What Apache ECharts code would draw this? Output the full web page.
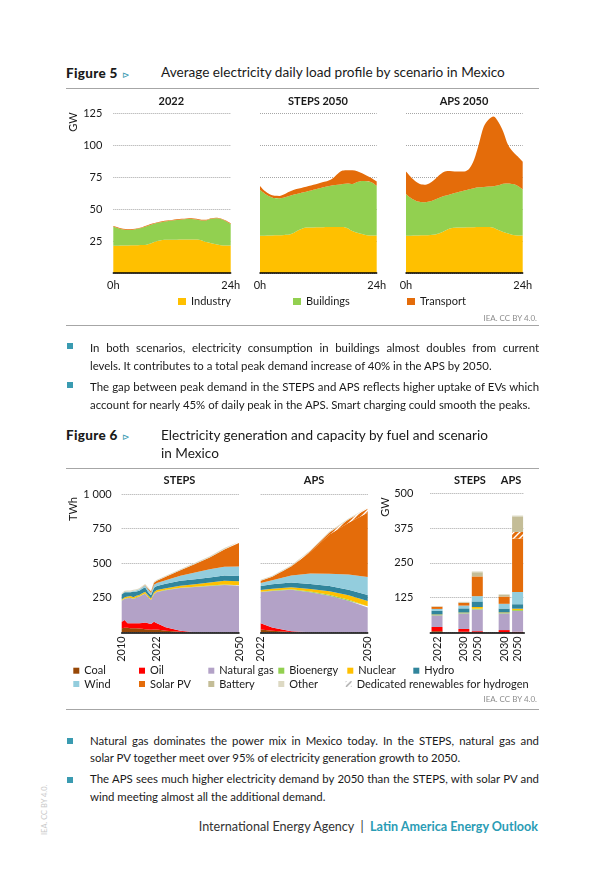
<!DOCTYPE html>
<html>
<head>
<meta charset="utf-8">
<script src="https://cdn.jsdelivr.net/npm/echarts@6.0.0/dist/echarts.min.js"></script>
<style>
  body { margin: 0; background: #fff; }
  #page { position: relative; width: 605px; height: 869px; overflow: hidden; font-family: Lato, 'Noto Sans', sans-serif; color: #1a1a1a; }
  .abs { position: absolute; white-space: nowrap; }
  .chart { position: absolute; }
  .figno { font-weight: 900; font-size: 13.5px; line-height: 18px; letter-spacing: 0.3px; }
  .tri { color: #3a9bb1; font-size: 9px; font-weight: normal; margin-left: 4px; }
  .figtitle { font-size: 13.6px; line-height: 17.5px; }
  .rule { position: absolute; left: 66px; width: 473px; height: 0; border-top: 1.5px solid #a6a6a6; }
  .src { position: absolute; right: 68px; font-size: 8px; line-height: 12px; color: #8c8c8c; }
  .line { position: absolute; left: 90px; width: 449px; font-size: 11.4px; line-height: 18px; white-space: nowrap; }
  .just { text-align: justify; text-align-last: justify; white-space: normal; }
  .sq { position: absolute; left: 67px; width: 6px; height: 6px; background: #3a9bb1; }
</style>
</head>
<body>
<div id="page">
  <div id="fig5" class="chart" style="left:60px; top:90px; width:490px; height:232px;"></div>
  <div id="fig6" class="chart" style="left:60px; top:470px; width:490px; height:230px;"></div>

  <div class="abs figno" style="left:66px; top:64px;">Figure 5<span class="tri">⊳</span></div>
  <div class="abs figtitle" style="left:161px; top:64px;">Average electricity daily load profile by scenario in Mexico</div>
  <div class="rule" style="top:88px;"></div>
  <div class="src" style="top:312px;">IEA. CC BY 4.0.</div>
  <div class="rule" style="top:325px;"></div>

  <div class="sq" style="top:343px;"></div>
  <div class="line just" style="top:339px;">In both scenarios, electricity consumption in buildings almost doubles from current</div>
  <div class="line" style="top:357px;">levels. It contributes to a total peak demand increase of 40% in the APS by 2050.</div>
  <div class="sq" style="top:382px;"></div>
  <div class="line just" style="top:378px;">The gap between peak demand in the STEPS and APS reflects higher uptake of EVs which</div>
  <div class="line" style="top:396px;">account for nearly 45% of daily peak in the APS. Smart charging could smooth the peaks.</div>

  <div class="abs figno" style="left:66px; top:426px;">Figure 6<span class="tri">⊳</span></div>
  <div class="abs figtitle" style="left:161px; top:427px;">Electricity generation and capacity by fuel and scenario<br>in Mexico</div>
  <div class="rule" style="top:468px;"></div>
  <div class="src" style="top:693px;">IEA. CC BY 4.0.</div>
  <div class="rule" style="top:709px;"></div>

  <div class="sq" style="top:738px;"></div>
  <div class="line just" style="top:732px;">Natural gas dominates the power mix in Mexico today. In the STEPS, natural gas and</div>
  <div class="line" style="top:749px;">solar PV together meet over 95% of electricity generation growth to 2050.</div>
  <div class="sq" style="top:777px;"></div>
  <div class="line just" style="top:770px;">The APS sees much higher electricity demand by 2050 than the STEPS, with solar PV and</div>
  <div class="line" style="top:788px;">wind meeting almost all the additional demand.</div>

  <div class="abs" style="left:40px; top:835px; transform-origin:0 0; transform:rotate(-90deg); font-size:7.5px; color:#c8c8c8;">IEA. CC BY 4.0.</div>
  <div class="abs" style="right:67px; top:819px; font-size:12.6px; line-height:16px; color:#333;">International Energy Agency&nbsp;&nbsp;|&nbsp;&nbsp;<span style="color:#2a9cb5; font-weight:bold;">Latin America Energy Outlook</span></div>
</div>

<script>
// ---- Figure 5: average daily load, GW (hours 0..24)
var hours = [0, 1, 2, 3, 4, 5, 6, 7, 8, 9, 10, 11, 12, 13, 14, 15, 16, 17, 18, 19, 20, 21, 22, 23, 24];
var ind2022 = [21.3, 21.3, 21.4, 21.5, 21.6, 21.7, 21.8, 22.3, 23.6, 25, 25.8, 25.9, 26, 26, 26.1, 26.1, 26.2, 26.2, 25.6, 24.2, 23.3, 22.4, 21.7, 21.5, 21.5];
var bld2022 = [14.9, 13.7, 12.6, 12.1, 12.2, 12.8, 13.7, 14.5, 14.5, 14.2, 14.1, 14.6, 15, 15.4, 15.7, 16, 16, 15.6, 15.5, 16.9, 19, 20.3, 20.4, 19, 16.8];
var trn2022 = [0.5, 0.5, 0.5, 0.5, 0.5, 0.5, 0.5, 0.5, 0.5, 0.5, 0.5, 0.5, 0.5, 0.5, 0.5, 0.5, 0.5, 0.5, 0.5, 0.5, 0.5, 0.5, 0.5, 0.5, 0.5];
var indSteps = [29, 29.1, 29.2, 29.4, 29.5, 29.7, 30, 31.5, 33.5, 35.2, 35.5, 35.6, 35.7, 35.8, 35.9, 36, 36, 36, 35, 32.8, 31.5, 30.5, 29.5, 29.2, 29.2];
var bldSteps = [35.8, 32.9, 30.6, 29.1, 28.8, 29.3, 30.2, 29.8, 28.7, 27.8, 28.5, 29.4, 30.3, 31.2, 31.9, 32.5, 33, 33.6, 35, 36.7, 39.5, 41.4, 42.1, 41.6, 39];
var trnSteps = [3.2, 2, 1.7, 1.8, 1.9, 2.5, 3.3, 3.7, 3.8, 4, 4, 4, 4, 4, 4.2, 5.5, 8.5, 10.4, 10.3, 10.7, 8.5, 6.1, 4.4, 3.2, 3.3];
var indAps = [29, 29.1, 29.2, 29.4, 29.5, 29.7, 30, 31.2, 33, 34.8, 35.4, 35.5, 35.6, 35.7, 35.8, 35.9, 36, 36, 35.4, 33.5, 32, 30.8, 29.6, 29.2, 29.2];
var bldAps = [32.7, 29.4, 27.3, 26.1, 25.8, 26.3, 27.5, 27.8, 27.3, 26.5, 27.1, 28, 28.9, 29.8, 30.5, 31, 31.2, 31.5, 32.4, 35, 37.8, 39.2, 39.9, 38.8, 36.2];
var trnAps = [17.5, 16.5, 15, 13.8, 13.7, 14.5, 16, 18, 19, 18.4, 16.8, 15.7, 14.8, 16, 22.2, 34.1, 47.3, 52.5, 54.5, 49.5, 40.6, 30, 25.3, 23, 21.6];

// ---- Figure 6: generation, TWh
var stepsYears = [2010, 2011, 2012, 2013, 2014, 2015, 2016, 2017, 2018, 2019, 2020, 2021, 2022, 2025, 2030, 2035, 2040, 2045, 2050];
var stepsCoal = [30, 33, 32, 30, 30, 30, 28, 25, 22, 20, 18, 20, 20, 12, 4, 0, 0, 0, 0];
var stepsOil = [47, 56, 33, 35, 35, 35, 37, 42, 48, 45, 42, 57, 45, 24, 8, 0, 0, 0, 0];
var stepsGas = [152, 153, 182, 183, 176, 185, 192, 202, 208, 189, 173, 198, 226, 268, 308, 327, 335, 342, 337];
var stepsBio = [2, 2, 2, 2, 3, 3, 3, 3, 3, 3, 3, 3, 3, 3, 3, 3, 3, 3, 3];
var stepsNuclear = [6, 10, 9, 12, 10, 11, 10, 11, 13, 11, 11, 11, 11, 12, 14, 18, 22, 28, 30];
var stepsHydro = [37, 36, 32, 28, 39, 31, 30, 32, 32, 24, 20, 33, 30, 32, 36, 36, 37, 37, 37];
var stepsWind = [1, 2, 4, 4, 6, 9, 11, 11, 13, 17, 18, 21, 21, 25, 35, 48, 58, 64, 68];
var stepsSolar = [0, 0, 0, 0, 0, 0, 0, 1, 3, 8, 10, 15, 17, 25, 40, 62, 85, 125, 170];
var stepsOther = [8, 8, 8, 8, 8, 8, 8, 8, 8, 8, 5, 7, 7, 8, 8, 8, 9, 10, 10];

var apsYears = [2022, 2025, 2030, 2035, 2040, 2045, 2050];
var apsCoal = [20, 12, 3, 0, 0, 0, 0];
var apsOil = [45, 22, 4, 0, 0, 0, 0];
var apsGas = [226, 265, 300, 290, 265, 228, 180];
var apsBio = [3, 3, 4, 5, 6, 7, 8];
var apsNuclear = [11, 12, 14, 18, 25, 32, 38];
var apsHydro = [30, 33, 35, 37, 39, 41, 43];
var apsWind = [21, 30, 50, 75, 88, 110, 130];
var apsSolar = [17, 25, 65, 155, 285, 375, 465];
var apsH2 = [0, 0, 3, 8, 14, 22, 30];
var apsOther = [7, 7, 6, 6, 6, 7, 8];

// ---- Figure 6: capacity, GW
var capCats = ['2022', '', '2030', '2050', '', '2030', '2050'];
var capCoal = [4, null, 2, 0, null, 1, 0];
var capOil = [15, null, 10, 4, null, 7, 2];
var capGas = [42, null, 56, 78, null, 60, 75];
var capBio = [1.5, null, 1.5, 3, null, 1.5, 3];
var capNuclear = [1.6, null, 1.6, 6, null, 2, 5];
var capHydro = [13, null, 15, 20, null, 14, 16];
var capWind = [7, null, 10, 19, null, 17, 44];
var capSolar = [8, null, 10, 71, null, 26, 192];
var capH2 = [0, null, 0, 0, null, 0, 24];
var capBattery = [0, null, 2, 15, null, 7, 56];
var capOther = [2, null, 1.5, 3, null, 1.5, 3];

var FONT = 'Lato';
var TXT = '#1a1a1a';

function hatch (bg, fg) {
    var c = document.createElement('canvas');
    c.width = 6;
    c.height = 6;
    var g = c.getContext('2d');
    g.fillStyle = bg;
    g.fillRect(0, 0, 6, 6);
    g.strokeStyle = fg;
    g.lineWidth = 1.4;
    g.beginPath();
    g.moveTo(0, 6); g.lineTo(6, 0);
    g.moveTo(-3, 3); g.lineTo(3, -3);
    g.moveTo(3, 9); g.lineTo(9, 3);
    g.stroke();
    return { image: c, repeat: 'repeat' };
}

function thousands (v) {
    return String(v).replace(/\B(?=(\d{3})+(?!\d))/g, ' ');
}

function label (text, x, y, opts) {
    opts = opts || {};
    return {
        type: 'text',
        x: x,
        y: y,
        rotation: opts.rotation || 0,
        style: {
            text: text,
            font: (opts.bold ? 'bold ' : '') + '11px ' + FONT,
            fill: TXT,
            textAlign: 'center',
            textVerticalAlign: 'middle'
        }
    };
}

// ================= Figure 5
var chart5 = echarts.init(document.getElementById('fig5'));
var panels5 = [
    { title: '2022', ind: ind2022, bld: bld2022, trn: trn2022, left: 53.3, width: 117.4, cx: 111.3 },
    { title: 'STEPS 2050', ind: indSteps, bld: bldSteps, trn: trnSteps, left: 200, width: 116.7, cx: 258 },
    { title: 'APS 2050', ind: indAps, bld: bldAps, trn: trnAps, left: 346, width: 116.7, cx: 404 }
];
var series5 = [];
panels5.forEach(function (p, i) {
    [['Industry', p.ind, '#FFC000'], ['Buildings', p.bld, '#92D050'], ['Transport', p.trn, '#E46C0A']].forEach(function (s) {
        series5.push({
            name: s[0],
            type: 'line',
            xAxisIndex: i,
            yAxisIndex: i,
            stack: 'load' + i,
            data: s[1],
            smooth: 0.3,
            symbol: 'none',
            lineStyle: { width: 0 },
            itemStyle: { color: s[2] },
            areaStyle: { color: s[2], opacity: 1 }
        });
    });
});

var legend5 = [['Industry', 118], ['Buildings', 233], ['Transport', 347]].map(function (l) {
    return {
        data: [l[0]],
        left: l[1],
        top: 206,
        padding: 0,
        icon: 'rect',
        itemWidth: 8,
        itemHeight: 7,
        selectedMode: false,
        textStyle: { fontFamily: FONT, fontSize: 11, color: TXT }
    };
});

chart5.setOption({
    animation: false,
    grid: panels5.map(function (p) {
        return { left: p.left, top: 23, width: p.width, height: 160 };
    }),
    xAxis: panels5.map(function (p, i) {
        return {
            type: 'category',
            gridIndex: i,
            data: hours,
            boundaryGap: false,
            z: 5,
            axisTick: { show: false },
            axisLine: { lineStyle: { color: '#000', width: 1.5 } },
            axisLabel: {
                interval: function (idx) { return idx === 0 || idx === hours.length - 1 },
                formatter: function (v) { return v + 'h' },
                margin: 7,
                fontFamily: FONT,
                fontSize: 11,
                color: TXT
            }
        };
    }),
    yAxis: panels5.map(function (p, i) {
        return {
            type: 'value',
            gridIndex: i,
            min: 0,
            max: 125,
            interval: 25,
            axisLine: { show: false },
            axisTick: { show: false },
            splitLine: { lineStyle: { type: 'dotted', color: '#a6a6a6' } },
            axisLabel: {
                show: i === 0,
                formatter: function (v) { return v === 0 ? '' : v },
                margin: 11,
                fontFamily: FONT,
                fontSize: 11,
                color: TXT
            }
        };
    }),
    legend: legend5,
    graphic: panels5.map(function (p) {
        return label(p.title, p.cx, 11, { bold: true });
    }).concat([label('GW', 13, 32, { rotation: Math.PI / 2 })]),
    series: series5
});

// ================= Figure 6
var chart6 = echarts.init(document.getElementById('fig6'));
var h2Fill = hatch('#E46C0A', '#ffffff');
var h2Legend = hatch('#ffffff', '#a6a6a6');

var fuels = [
    { name: 'Coal', color: '#974706', steps: stepsCoal, aps: apsCoal, cap: capCoal },
    { name: 'Oil', color: '#FF0000', steps: stepsOil, aps: apsOil, cap: capOil },
    { name: 'Natural gas', color: '#B3A2C7', steps: stepsGas, aps: apsGas, cap: capGas },
    { name: 'Bioenergy', color: '#92D050', steps: stepsBio, aps: apsBio, cap: capBio },
    { name: 'Nuclear', color: '#FFC000', steps: stepsNuclear, aps: apsNuclear, cap: capNuclear },
    { name: 'Hydro', color: '#31859C', steps: stepsHydro, aps: apsHydro, cap: capHydro },
    { name: 'Wind', color: '#93CDDD', steps: stepsWind, aps: apsWind, cap: capWind },
    { name: 'Solar PV', color: '#E46C0A', steps: stepsSolar, aps: apsSolar, cap: capSolar },
    { name: 'Dedicated renewables for hydrogen', color: h2Fill, steps: null, aps: apsH2, cap: capH2 },
    { name: 'Battery', color: '#C4BD97', steps: null, aps: null, cap: capBattery },
    { name: 'Other', color: '#DDD9C3', steps: stepsOther, aps: apsOther, cap: capOther }
];

// value first, year second: stacking with two value axes adds up the first dimension
function pairs (years, vals) {
    return years.map(function (y, i) { return [vals[i], y] });
}

var series6 = [];
fuels.forEach(function (f) {
    var area = {
        name: f.name,
        type: 'line',
        symbol: 'none',
        encode: { x: 1, y: 0 },
        lineStyle: { width: 0 },
        itemStyle: { color: f.color },
        areaStyle: { color: f.color, opacity: 1 }
    };
    if (f.steps) {
        series6.push(Object.assign({}, area, { xAxisIndex: 0, yAxisIndex: 0, stack: 'steps', data: pairs(stepsYears, f.steps) }));
    }
    if (f.aps) {
        series6.push(Object.assign({}, area, { xAxisIndex: 1, yAxisIndex: 1, stack: 'aps', data: pairs(apsYears, f.aps) }));
    }
    series6.push({
        name: f.name,
        type: 'bar',
        xAxisIndex: 2,
        yAxisIndex: 2,
        stack: 'cap',
        barWidth: 11,
        data: f.cap,
        itemStyle: { color: f.color }
    });
});

var legendSpots = {
    'Coal': [13.3, 0], 'Oil': [79, 0], 'Natural gas': [148.3, 0], 'Bioenergy': [218.3, 0], 'Nuclear': [287.3, 0], 'Hydro': [353.3, 0],
    'Wind': [13.3, 1], 'Solar PV': [79, 1], 'Battery': [148.3, 1], 'Other': [218.3, 1], 'Dedicated renewables for hydrogen': [285.7, 1]
};
var legend6 = fuels.map(function (f) {
    var spot = legendSpots[f.name];
    var item = f.name === 'Dedicated renewables for hydrogen'
        ? { name: f.name, itemStyle: { color: h2Legend } }
        : f.name;
    return {
        data: [item],
        left: spot[0],
        top: spot[1] ? 208.5 : 195.2,
        padding: 0,
        icon: 'rect',
        itemWidth: 6,
        itemHeight: 6,
        selectedMode: false,
        textStyle: { fontFamily: FONT, fontSize: 11, color: TXT }
    };
});

var axisLine = { lineStyle: { color: '#000', width: 1.5 } };
var tickText = { fontFamily: FONT, fontSize: 11, color: TXT };
var gridLine = { lineStyle: { type: 'dotted', color: '#a6a6a6' } };

chart6.setOption({
    animation: false,
    grid: [
        { left: 61.7, top: 24, width: 117.3, height: 138.3 },
        { left: 200.7, top: 24, width: 107, height: 138.3 },
        { left: 370.3, top: 23.3, width: 94, height: 139 }
    ],
    xAxis: [
        {
            type: 'value', gridIndex: 0, min: 2010, max: 2050, z: 5,
            splitLine: { show: false }, axisTick: { show: false }, axisLine: axisLine,
            axisLabel: Object.assign({ customValues: [2010, 2022, 2050], rotate: 90, margin: 4, formatter: function (v) { return String(v) } }, tickText)
        },
        {
            type: 'value', gridIndex: 1, min: 2022, max: 2050, z: 5,
            splitLine: { show: false }, axisTick: { show: false }, axisLine: axisLine,
            axisLabel: Object.assign({ customValues: [2022, 2050], rotate: 90, margin: 4, formatter: function (v) { return String(v) } }, tickText)
        },
        {
            type: 'category', gridIndex: 2, data: capCats, z: 5,
            axisTick: { show: false }, axisLine: axisLine,
            axisLabel: Object.assign({ interval: 0, rotate: 90, margin: 4 }, tickText)
        }
    ],
    yAxis: [
        {
            type: 'value', gridIndex: 0, min: 0, max: 1000, interval: 250,
            axisLine: { show: false }, axisTick: { show: false }, splitLine: gridLine,
            axisLabel: Object.assign({ margin: 10, formatter: function (v) { return v === 0 ? '' : thousands(v) } }, tickText)
        },
        {
            type: 'value', gridIndex: 1, min: 0, max: 1000, interval: 250,
            axisLine: { show: false }, axisTick: { show: false }, splitLine: gridLine,
            axisLabel: { show: false }
        },
        {
            type: 'value', gridIndex: 2, min: 0, max: 500, interval: 125,
            axisLine: { show: false }, axisTick: { show: false }, splitLine: gridLine,
            axisLabel: Object.assign({ margin: 17, formatter: function (v) { return v === 0 ? '' : v } }, tickText)
        }
    ],
    legend: legend6,
    graphic: [
        label('STEPS', 119.5, 10, { bold: true }),
        label('APS', 254, 10, { bold: true }),
        label('STEPS', 410, 10, { bold: true }),
        label('APS', 451, 10, { bold: true }),
        label('TWh', 13.5, 39, { rotation: Math.PI / 2 }),
        label('GW', 325, 37, { rotation: Math.PI / 2 })
    ],
    series: series6
});
</script>
</body>
</html>
